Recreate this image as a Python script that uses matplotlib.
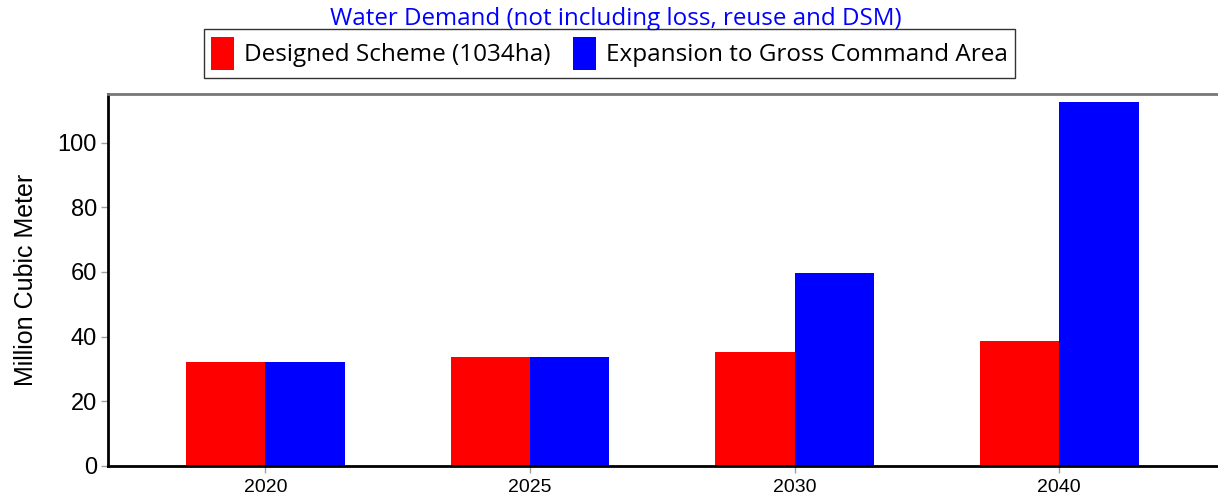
import matplotlib
matplotlib.use("Agg")
import matplotlib.pyplot as plt
import numpy as np

# data
years = ["2020", "2025", "2030", "2040"]
designed_scheme = [32.0, 33.6, 35.2, 38.6]
expansion_gca = [32.0, 33.6, 59.6, 112.4]
series_labels = ["Designed Scheme (1034ha)", "Expansion to Gross Command Area"]
y_ticks = [0, 20, 40, 60, 80, 100]

fig = plt.figure(figsize=(12.18, 5.04), dpi=100)
ax = fig.add_axes([108 / 1218, 1 - 466 / 504, 1 - 108 / 1218, (466 - 94) / 504])

x = np.arange(len(years))
width = 0.3
ax.bar(x - width / 2, designed_scheme, width, color="#ff0000", label=series_labels[0])
ax.bar(x + width / 2, expansion_gca, width, color="#0000ff", label=series_labels[1])

ax.set_xlim(-0.595, 3.6)
ax.set_ylim(0, 115)
ax.set_xticks(x)
ax.set_xticklabels(years, family="Liberation Sans", fontsize=14)
ax.set_yticks(y_ticks)
ax.set_yticklabels([str(t) for t in y_ticks], family="Liberation Sans", fontsize=17)
ax.tick_params(axis="both", direction="out", length=5, width=1, color="#a0a0a0", pad=3)
ax.tick_params(axis="x", pad=4)

ax.spines["right"].set_visible(False)
ax.spines["left"].set_linewidth(2)
ax.spines["bottom"].set_linewidth(2)
ax.spines["top"].set_color("#777777")
ax.spines["top"].set_linewidth(2)

ax.set_ylabel("Million Cubic Meter", family="Liberation Sans", fontsize=18, labelpad=14)

fig.text(616 / 1218, 1 - 19 / 504, "Water Demand (not including loss, reuse and DSM)",
         ha="center", va="center", color="#0000ff", family="Open Sans", fontsize=17.4)

leg = fig.legend(loc="center left", bbox_to_anchor=(204 / 1218, 1 - 53.5 / 504), ncol=2,
                 frameon=True, fancybox=False, edgecolor="black",
                 prop={"family": "Open Sans", "size": 17.5},
                 handlelength=0.92, handleheight=1.75, handletextpad=0.42,
                 columnspacing=0.95, borderpad=0.3, borderaxespad=0)
leg.get_frame().set_linewidth(1)

fig.savefig("out.png", dpi=100, facecolor="white")
